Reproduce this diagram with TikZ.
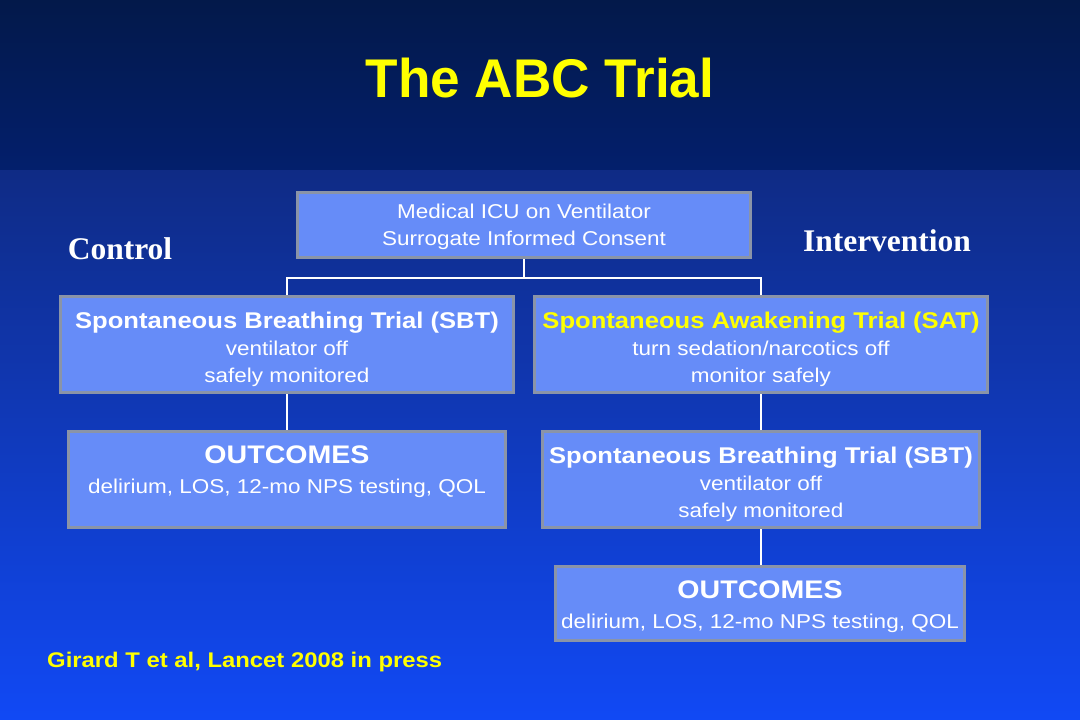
\documentclass[tikz,border=0pt]{standalone}
\usepackage{fontspec}
\newfontfamily\arx[FakeStretch=1.125]{Liberation Sans}
\newfontfamily\titlefont[FakeStretch=0.975]{Liberation Sans}
\newfontfamily\serx{Liberation Serif}
\definecolor{bgtopA}{HTML}{03194A}
\definecolor{bgtopB}{HTML}{031F6C}
\definecolor{bgbotA}{HTML}{0F2B85}
\definecolor{bgbotB}{HTML}{1149F5}
\definecolor{boxfill}{HTML}{668CF8}
\definecolor{boxline}{HTML}{8A94A8}
\definecolor{ylw}{HTML}{FFFF00}
\tikzset{
  x=1pt, y=-1pt,
  flowbox/.style={rectangle, fill=boxfill, draw=boxline, line width=3pt, inner sep=0pt,
    align=center, text=white, font=\arx\fontsize{20}{27}\selectfont},
  conn/.style={draw=white, line width=2pt},
  sidelabel/.style={text=white, font=\serx\bfseries\fontsize{31.5}{36}\selectfont, anchor=base}
}
\newcommand{\bhead}[1]{{\fontsize{22.75}{28}\selectfont\bfseries\rule{0pt}{26pt}#1}}
\newcommand{\ohead}[1]{{\fontsize{25.4}{30}\selectfont\bfseries #1}}
\begin{document}
\begin{tikzpicture}
\useasboundingbox (0,0) rectangle (1080,720);
\shade[top color=bgtopA, bottom color=bgtopB] (0,0) rectangle (1080,170);
\shade[top color=bgbotA, bottom color=bgbotB] (0,170) rectangle (1080,720);

\node[anchor=base, text=ylw, font=\titlefont\bfseries\fontsize{54.5}{60}\selectfont] (title) at (540,97) {The ABC Trial};

\node[flowbox, minimum width=453, minimum height=65] (top) at (524,225) {\rule{0pt}{19pt}Medical ICU on Ventilator\\Surrogate Informed Consent};

\node[flowbox, minimum width=453, minimum height=96] (sbtL) at (287,344.5) {\bhead{Spontaneous Breathing Trial (SBT)}\\ventilator off\\safely monitored};
\node[flowbox, minimum width=453, minimum height=96] (sat) at (761,344.5) {\bhead{\color{ylw}Spontaneous Awakening Trial (SAT)}\\turn sedation/narcotics off\\monitor safely};

\node[flowbox, minimum width=437, minimum height=96] (outL) at (287,479.5) {};
\node[align=center, text=white, font=\arx\fontsize{20}{30}\selectfont] (outLtext) at (287,472) {\ohead{OUTCOMES}\\delirium, LOS, 12-mo NPS testing, QOL};

\node[flowbox, minimum width=437, minimum height=96] (sbtR) at (761,479.5) {\bhead{Spontaneous Breathing Trial (SBT)}\\ventilator off\\safely monitored};

\node[flowbox, minimum width=409, minimum height=74, font=\arx\fontsize{20}{30}\selectfont] (outR) at (760,603.5) {\ohead{\rule{0pt}{25pt}OUTCOMES}\\delirium, LOS, 12-mo NPS testing, QOL};

\coordinate (split) at (524,278);
\draw[conn] (top.south) -- (split);
\draw[conn] (sbtL.north) |- (split) -| (sat.north);
\draw[conn] (sbtL.south) -- (outL.north);
\draw[conn] (sat.south) -- (sbtR.north);
\draw[conn] (sbtR.south) -- (sbtR.south |- outR.north);

\node[sidelabel] (control) at (120,259) {Control};
\node[sidelabel] (interv) at (887,251) {Intervention};

\node[anchor=base west, inner sep=0pt, text=ylw, font=\arx\bfseries\fontsize{21.2}{25}\selectfont] (cite) at (47,667) {Girard T et al, Lancet 2008 in press};
\end{tikzpicture}
\end{document}
